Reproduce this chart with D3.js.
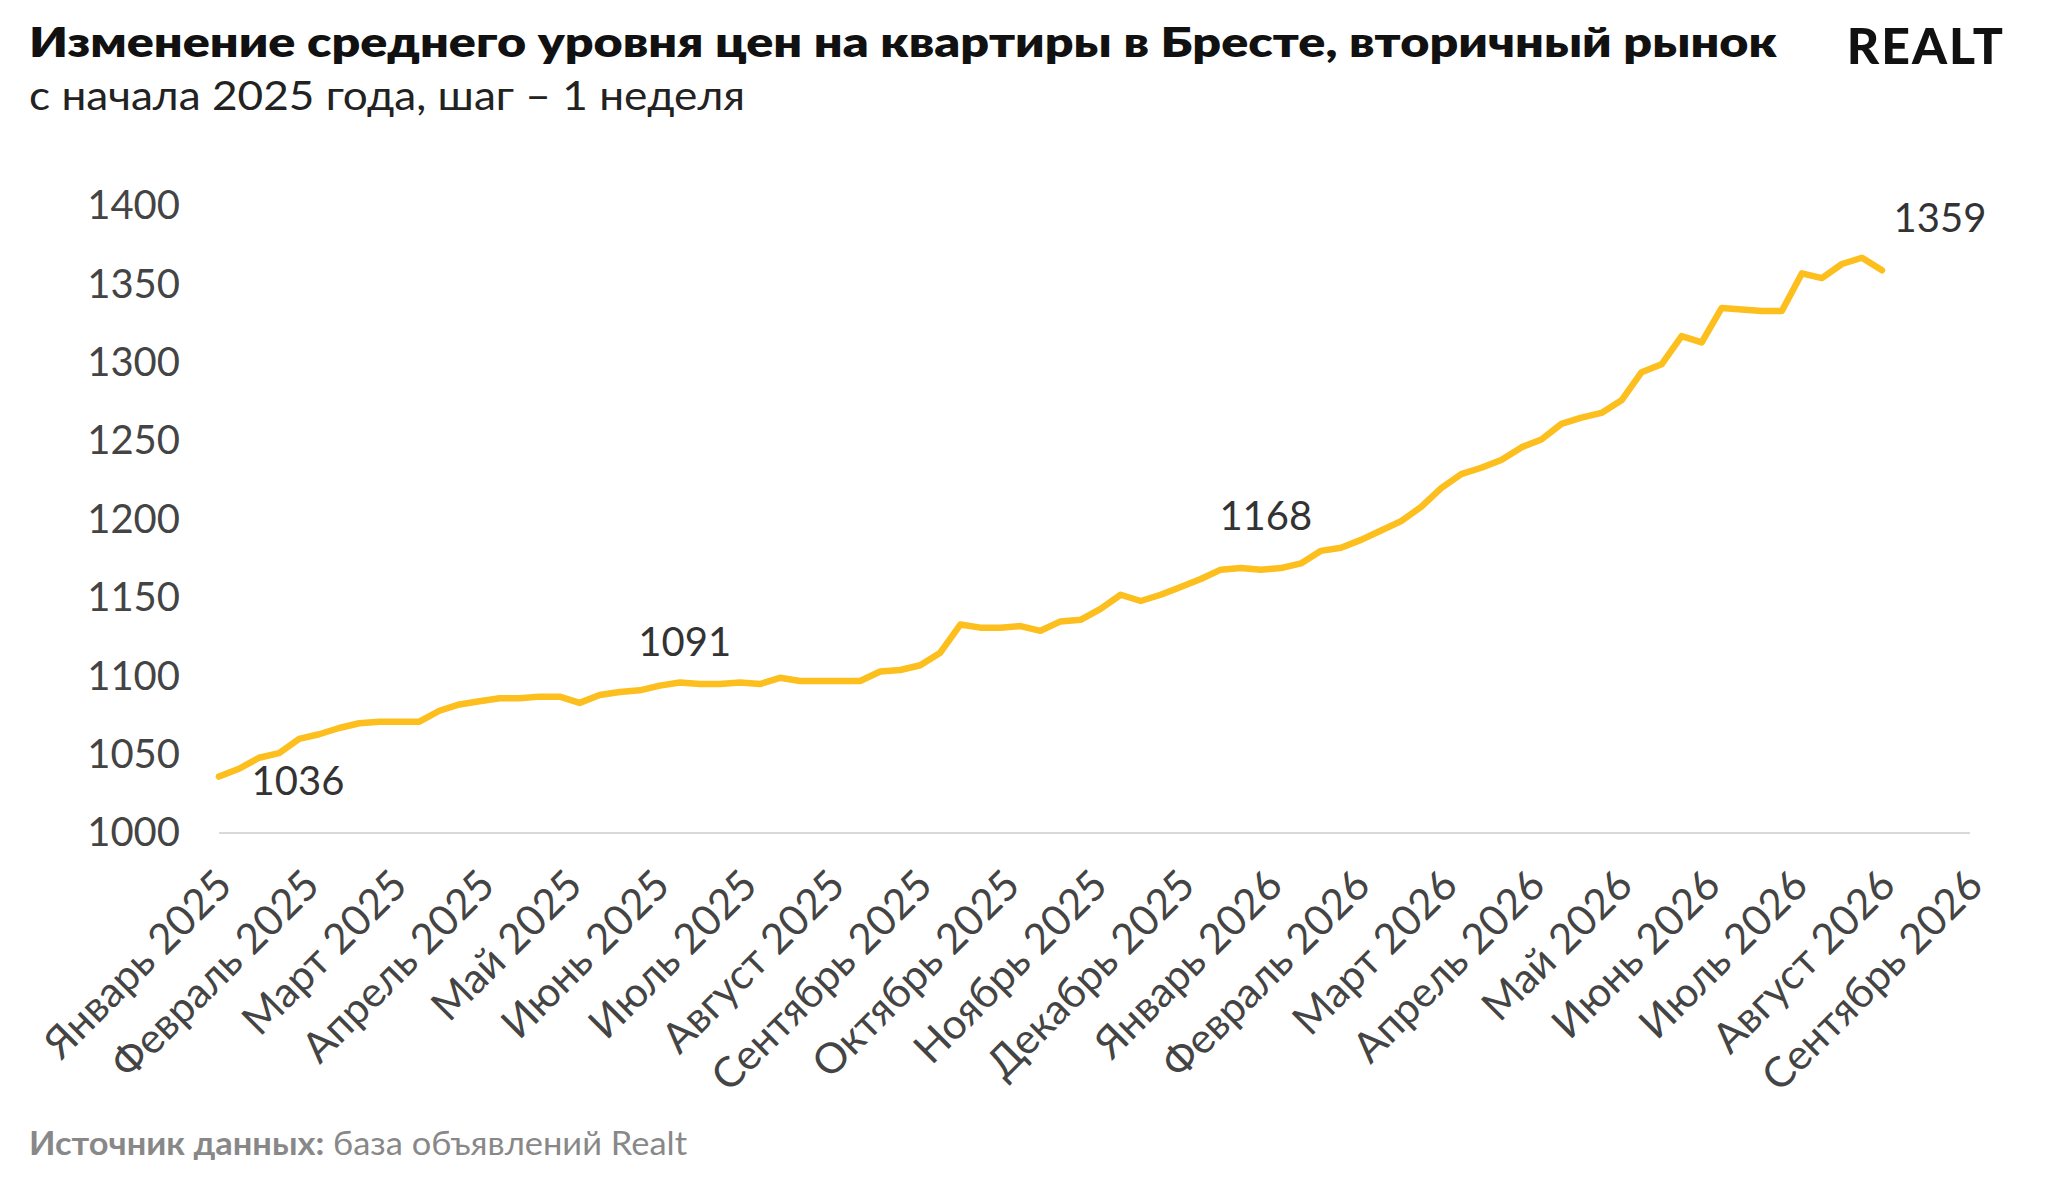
<!DOCTYPE html>
<html><head><meta charset="utf-8">
<script src="https://cdn.jsdelivr.net/npm/d3@7"></script>
<style>body{margin:0;background:#fff}svg{display:block}text{font-family:Lato,"Open Sans",sans-serif}</style>
</head><body><svg id="c" width="2048" height="1184"></svg>
<script>
const months = ["Январь 2025","Февраль 2025","Март 2025","Апрель 2025","Май 2025","Июнь 2025","Июль 2025","Август 2025","Сентябрь 2025","Октябрь 2025","Ноябрь 2025","Декабрь 2025","Январь 2026","Февраль 2026","Март 2026","Апрель 2026","Май 2026","Июнь 2026","Июль 2026","Август 2026","Сентябрь 2026"];
const prices = [1036,1041,1048,1051,1060,1063,1067,1070,1071,1071,1071,1078,1082,1084,1086,1086,1087,1087,1083,1088,1090,1091,1094,1096,1095,1095,1096,1095,1099,1097,1097,1097,1097,1103,1104,1107,1115,1133,1131,1131,1132,1129,1135,1136,1143,1152,1148,1152,1157,1162,1168,1169,1168,1169,1172,1180,1182,1187,1193,1199,1208,1220,1229,1233,1238,1246,1251,1261,1265,1268,1276,1294,1299,1317,1313,1335,1334,1333,1333,1357,1354,1363,1367,1359];
const yTicks = [1000,1050,1100,1150,1200,1250,1300,1350,1400];
const labels = [{i:0,v:1036,dx:79,dy:18},{i:21,v:1091,dx:45,dy:-34},{i:50,v:1168,dx:45,dy:-40},{i:83,v:1359,dx:58,dy:-38}];

const svg = d3.select("#c");
const x = d3.scaleLinear().domain([0,prices.length-1]).range([219,1882]);
const xm = d3.scalePoint().domain(months).range([219,1970]);
const y = d3.scaleLinear().domain([1000,1400]).range([833,206]);

svg.append("text").attr("x",29).attr("y",57).attr("font-size",42).attr("font-weight",800).attr("fill","#111")
  .attr("textLength",1748).attr("lengthAdjust","spacingAndGlyphs")
  .text("Изменение среднего уровня цен на квартиры в Бресте, вторичный рынок");
svg.append("text").attr("x",29).attr("y",110).attr("font-size",40).attr("fill","#222")
  .attr("textLength",716).attr("lengthAdjust","spacingAndGlyphs")
  .text("с начала 2025 года, шаг – 1 неделя");
svg.append("text").attr("x",2005).attr("y",64).attr("text-anchor","end").attr("font-size",50).attr("font-weight",900).attr("fill","#111").attr("letter-spacing",2)
  .text("REALT");

svg.append("line").attr("x1",219).attr("x2",1970).attr("y1",y(1000)).attr("y2",y(1000)).attr("stroke","#d9d9d9").attr("stroke-width",2);

const ya = svg.append("g").attr("transform","translate(180,0)")
  .call(d3.axisLeft(y).tickValues(yTicks).tickSize(0).tickPadding(0).tickFormat(d3.format("d")));
ya.select(".domain").remove();
ya.selectAll("text").attr("font-size",40).attr("fill","#444").style("font-family","Lato,sans-serif");

const xa = svg.append("g").attr("transform",`translate(-6,${y(1000)+34})`)
  .call(d3.axisBottom(xm).tickSize(0).tickPadding(0));
xa.select(".domain").remove();
xa.selectAll("text").attr("font-size",42).attr("fill","#444").style("font-family","Lato,sans-serif")
  .attr("text-anchor","end").attr("dy","0.7em").attr("transform","rotate(-45)");

svg.append("path").datum(prices)
  .attr("d",d3.line().x((d,i)=>x(i)).y(d=>y(d)).curve(d3.curveLinear))
  .attr("fill","none").attr("stroke","#FDBF1E").attr("stroke-width",6.5).attr("stroke-linejoin","round").attr("stroke-linecap","round");

svg.selectAll(".lab").data(labels).join("text")
  .attr("x",d=>x(d.i)+d.dx).attr("y",d=>y(d.v)+d.dy).attr("text-anchor","middle")
  .attr("font-size",40).attr("fill","#333").text(d=>d.v);

const src = svg.append("text").attr("x",29).attr("y",1155).attr("font-size",32).attr("fill","#888")
  .attr("textLength",658).attr("lengthAdjust","spacingAndGlyphs");
src.append("tspan").attr("font-weight",700).text("Источник данных:");
src.append("tspan").text(" база объявлений Realt");
</script></body></html>
